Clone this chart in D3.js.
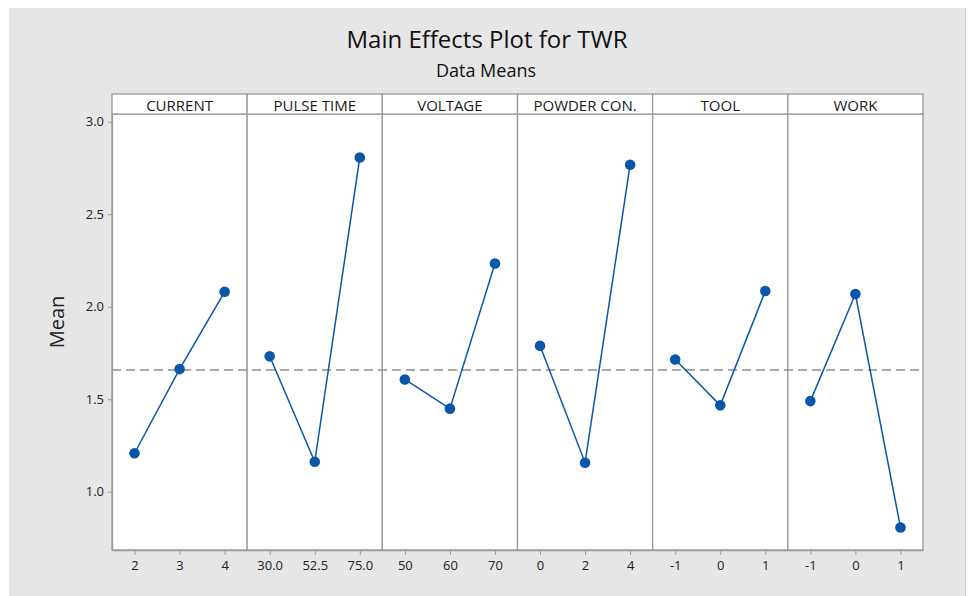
<!DOCTYPE html>
<html>
<head>
<meta charset="utf-8">
<script src="https://cdn.jsdelivr.net/npm/d3@7"></script>
<style>
  html, body { margin: 0; padding: 0; background: #ffffff; }
  svg { display: block; }
  text { font-family: "Open Sans", "Noto Sans", sans-serif; fill: #222; }
</style>
</head>
<body>
<svg id="chart" width="968" height="596"></svg>
<script>
// ---- data ----
const factors = ["CURRENT", "PULSE TIME", "VOLTAGE", "POWDER CON.", "TOOL", "WORK"];
const levels = [
  ["2", "3", "4"],
  ["30.0", "52.5", "75.0"],
  ["50", "60", "70"],
  ["0", "2", "4"],
  ["-1", "0", "1"],
  ["-1", "0", "1"]
];
const currentMeans = [1.208, 1.663, 2.081];
const pulseMeans   = [1.732, 1.162, 2.807];
const voltageMeans = [1.607, 1.449, 2.234];
const powderMeans  = [1.789, 1.157, 2.768];
const toolMeans    = [1.715, 1.467, 2.085];
const workMeans    = [1.490, 2.069, 0.807];
const grandMean = 1.658;
const yTicks = [1.0, 1.5, 2.0, 2.5, 3.0];
const yTickLabels = ["1.0", "1.5", "2.0", "2.5", "3.0"];

const allMeans = [currentMeans, pulseMeans, voltageMeans, powderMeans, toolMeans, workMeans];

(function () {
// ---- layout ----
const W = 968, H = 596;
const pLeft = 112, pRight = 923, pTop = 114, pBottom = 550, stripTop = 94;
const svg = d3.select("#chart");

// backgrounds
svg.append("rect").attr("x", 0).attr("y", 0).attr("width", W).attr("height", H).attr("fill", "#ffffff");
svg.append("rect").attr("x", 9).attr("y", 8).attr("width", 956).attr("height", H - 8).attr("fill", "#e6e6e6");
svg.append("line").attr("x1", 965.5).attr("x2", 965.5).attr("y1", 8).attr("y2", H)
  .attr("stroke", "#d0d0d0").attr("stroke-width", 1);

// titles
svg.append("text").attr("x", 487).attr("y", 48).attr("text-anchor", "middle")
  .style("font-size", "24px").style("fill", "#111").text("Main Effects Plot for TWR");
svg.append("text").attr("x", 486).attr("y", 77).attr("text-anchor", "middle")
  .style("font-size", "18px").style("fill", "#111").text("Data Means");

// scales
const panelScale = d3.scaleBand().domain(factors).range([pLeft, pRight]).padding(0);
const y = d3.scaleLinear().domain([0.685, 3.042]).range([pBottom, pTop]);

const gridColor = "#9a9a9a";
const blue = "#0a56a8";

// panels
factors.forEach((f, i) => {
  const x0 = panelScale(f), pw = panelScale.bandwidth();
  const g = svg.append("g");
  g.append("rect").attr("x", x0).attr("y", pTop).attr("width", pw).attr("height", pBottom - pTop)
    .attr("fill", "#ffffff").attr("stroke", gridColor).attr("stroke-width", 1.3);
  g.append("rect").attr("x", x0).attr("y", stripTop).attr("width", pw).attr("height", pTop - stripTop)
    .attr("fill", "#ffffff").attr("stroke", gridColor).attr("stroke-width", 1.3);
  g.append("text").attr("x", x0 + pw / 2).attr("y", pTop - 3).attr("text-anchor", "middle")
    .style("font-size", "15px").style("fill", "#1a1a1a").text(f);
});

// grand mean reference line
svg.append("line").attr("x1", pLeft).attr("x2", pRight).attr("y1", y(grandMean)).attr("y2", y(grandMean))
  .attr("stroke", "#8f8f8f").attr("stroke-width", 1.3).attr("stroke-dasharray", "9,5");

// series
factors.forEach((f, i) => {
  const x0 = panelScale(f), pw = panelScale.bandwidth();
  const x = d3.scalePoint().domain(levels[i]).range([x0, x0 + pw]).padding(0.5);
  const pts = levels[i].map((lv, j) => ({ lv, v: allMeans[i][j] }));
  const line = d3.line().x(d => x(d.lv)).y(d => y(d.v));
  svg.append("path").datum(pts).attr("d", line).attr("fill", "none")
    .attr("stroke", blue).attr("stroke-width", 1.5);
  svg.selectAll(null).data(pts).enter().append("circle")
    .attr("cx", d => x(d.lv)).attr("cy", d => y(d.v)).attr("r", 5.3).attr("fill", blue);

  // x axis for panel
  const ax = svg.append("g").attr("transform", `translate(0,${pBottom})`)
    .call(d3.axisBottom(x).tickSize(5).tickPadding(6).tickSizeOuter(0));
  ax.select(".domain").attr("stroke", gridColor).attr("stroke-width", 1.3);
  ax.selectAll(".tick line").attr("stroke", gridColor);
  ax.selectAll(".tick text").style("font-size", "13px").style("fill", "#222")
    .style("font-family", "'Open Sans', 'Noto Sans', sans-serif");
});

// y axis
const ay = svg.append("g").attr("transform", `translate(${pLeft},0)`)
  .call(d3.axisLeft(y).tickValues(yTicks).tickFormat((d, i) => yTickLabels[i]).tickSize(4).tickPadding(4).tickSizeOuter(0));
ay.select(".domain").attr("stroke", gridColor).attr("stroke-width", 1.3);
ay.selectAll(".tick line").attr("stroke", gridColor);
ay.selectAll(".tick text").style("font-size", "13px").style("fill", "#222")
  .style("font-family", "'Open Sans', 'Noto Sans', sans-serif");

// y label
svg.append("text").attr("transform", `translate(64,${(pTop + pBottom) / 2 - 10}) rotate(-90)`)
  .attr("text-anchor", "middle").style("font-size", "20px").style("fill", "#222").text("Mean");
})();
</script>
</body>
</html>
